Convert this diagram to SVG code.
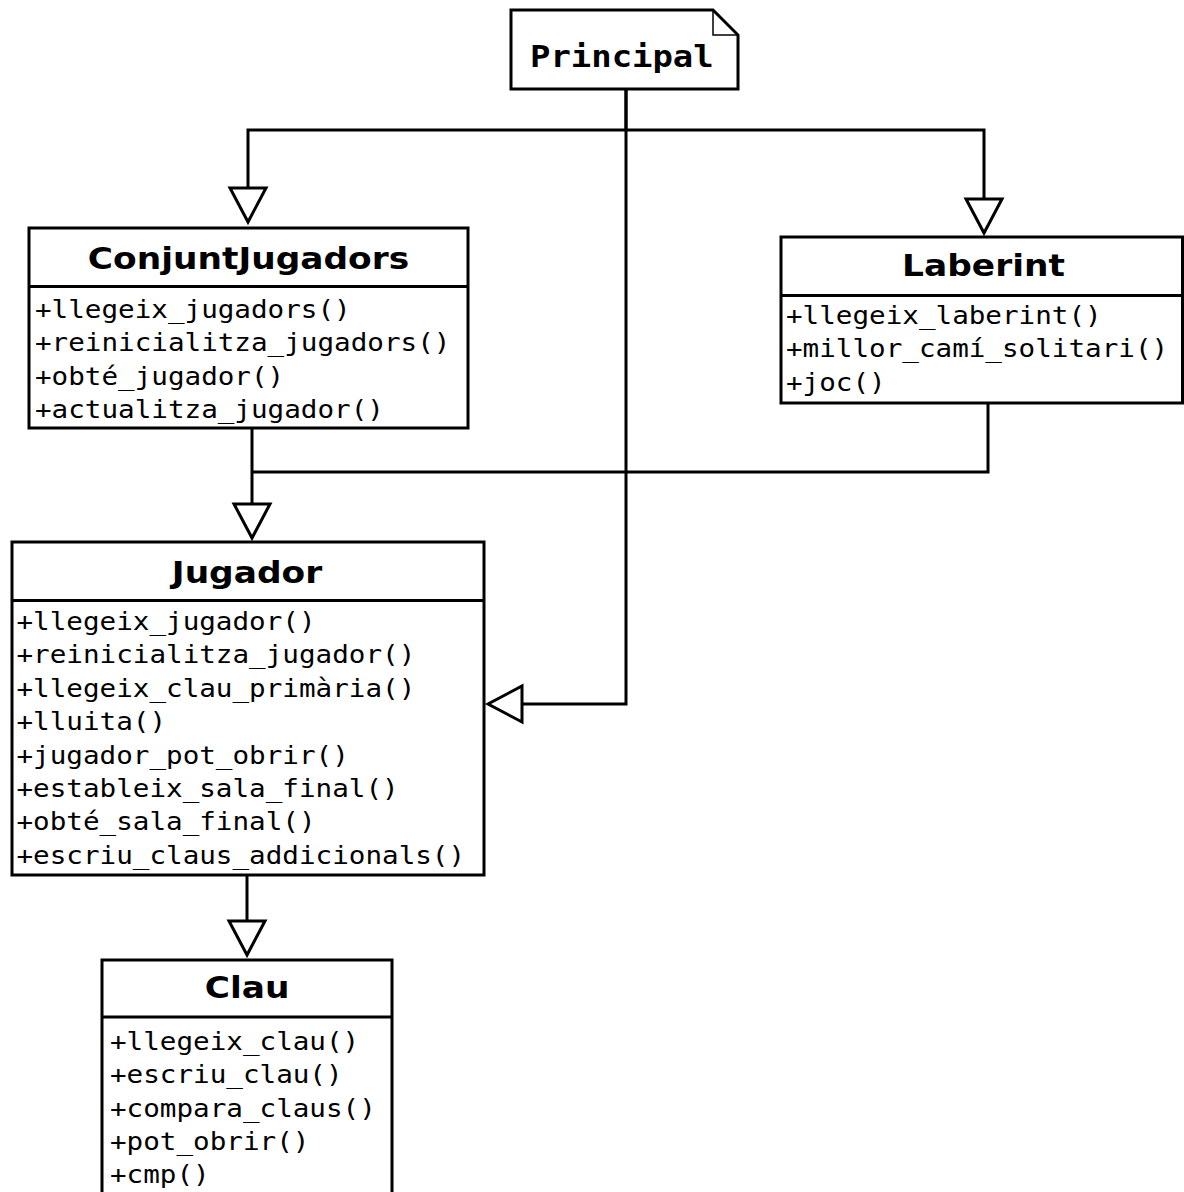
<svg xmlns="http://www.w3.org/2000/svg" width="1184" height="1192" viewBox="0 0 1184 1192">
<style>
.box{fill:#fff;stroke:#000;stroke-width:3}
.div{stroke:#000;stroke-width:3}
.fold{fill:none;stroke:#000;stroke-width:1.5}
.t{font-family:"DejaVu Sans",sans-serif;font-weight:bold;font-size:31px;text-anchor:middle;fill:#000}
.p{font-family:"DejaVu Sans Mono",monospace;font-weight:bold;font-size:29.5px;fill:#000}
.m{font-family:"DejaVu Sans Mono",monospace;font-size:24px;fill:#000}
.c{fill:none;stroke:#000;stroke-width:3;marker-end:url(#tri)}
.c2{fill:none;stroke:#000;stroke-width:3}
</style>
<defs>
<marker id="tri" markerUnits="userSpaceOnUse" viewBox="-3 -3 46 46" markerWidth="46" markerHeight="46" refX="36" refY="20" orient="auto" overflow="visible">
<path d="M2,2 L36,20 L2,38 Z" fill="#fff" stroke="#000" stroke-width="3"/>
</marker>
</defs>
<rect width="1184" height="1192" fill="#fff"/>
<g id="connectors">
<path class="c" d="M626,89 V130 H248 V222"/>
<path class="c" d="M626,130 H984 V233"/>
<path class="c" d="M626,89 V704 H488"/>
<path class="c" d="M252,428 V538"/>
<path class="c2" d="M988,403 V472 H252"/>
<path class="c" d="M247,875 V955"/>
</g>
<g id="principal">
<path class="box" d="M511,10 H713 L738,35 V89 H511 Z"/>
<path class="fold" d="M713,10 V35 H738"/>
<text class="p" transform="translate(530,66.5) scale(1.15,1)">Principal</text>
</g>
<g id="conjuntjugadors">
<rect class="box" x="29" y="228" width="439" height="200"/>
<line class="div" x1="29" y1="286.5" x2="468" y2="286.5"/>
<text class="t" transform="translate(248.5,268.5) scale(1.11,1)">ConjuntJugadors</text>
<g transform="translate(35,0) scale(1.15,1)" class="m">
<text x="0" y="318">+llegeix_jugadors()</text>
<text x="0" y="351.4">+reinicialitza_jugadors()</text>
<text x="0" y="384.8">+obté_jugador()</text>
<text x="0" y="418">+actualitza_jugador()</text>
</g>
</g>
<g id="laberint">
<rect class="box" x="781" y="237" width="401.5" height="166"/>
<line class="div" x1="781" y1="295.5" x2="1182.5" y2="295.5"/>
<text class="t" transform="translate(983.5,276) scale(1.11,1)">Laberint</text>
<g transform="translate(786,0) scale(1.15,1)" class="m">
<text x="0" y="324">+llegeix_laberint()</text>
<text x="0" y="357.5">+millor_camí_solitari()</text>
<text x="0" y="391">+joc()</text>
</g>
</g>
<g id="jugador">
<rect class="box" x="12" y="542" width="472" height="333"/>
<line class="div" x1="12" y1="600.5" x2="484" y2="600.5"/>
<text class="t" transform="translate(247,583) scale(1.11,1)">Jugador</text>
<g transform="translate(16.5,0) scale(1.15,1)" class="m">
<text x="0" y="630">+llegeix_jugador()</text>
<text x="0" y="663.4">+reinicialitza_jugador()</text>
<text x="0" y="696.8">+llegeix_clau_primària()</text>
<text x="0" y="730.2">+lluita()</text>
<text x="0" y="763.6">+jugador_pot_obrir()</text>
<text x="0" y="797">+estableix_sala_final()</text>
<text x="0" y="830.4">+obté_sala_final()</text>
<text x="0" y="863.8">+escriu_claus_addicionals()</text>
</g>
</g>
<g id="clau">
<rect class="box" x="102" y="960" width="290" height="260"/>
<line class="div" x1="102" y1="1017" x2="392" y2="1017"/>
<text class="t" transform="translate(247,998) scale(1.11,1)">Clau</text>
<g transform="translate(110,0) scale(1.15,1)" class="m">
<text x="0" y="1050">+llegeix_clau()</text>
<text x="0" y="1083.3">+escriu_clau()</text>
<text x="0" y="1116.6">+compara_claus()</text>
<text x="0" y="1150">+pot_obrir()</text>
<text x="0" y="1183.3">+cmp()</text>
</g>
</g>
</svg>
